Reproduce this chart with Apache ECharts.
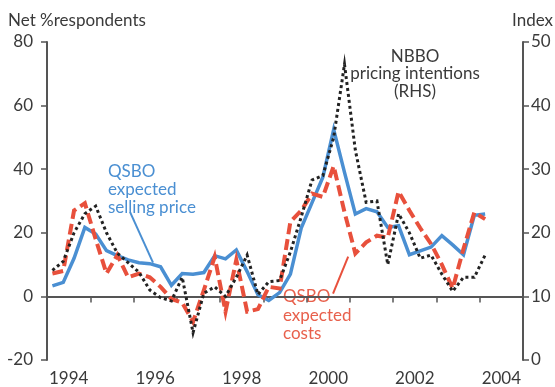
<!DOCTYPE html>
<html>
<head>
<meta charset="utf-8">
<script src="https://cdn.jsdelivr.net/npm/echarts@6/dist/echarts.min.js"></script>
<style>
  html, body { margin: 0; padding: 0; background: #ffffff; }
  #chart { width: 555px; height: 387px; }
</style>
</head>
<body>
<div id="chart"></div>
<script>
// Calendar years on the horizontal axis (labels shown every second year)
const years = ['1994', '1995', '1996', '1997', '1998', '1999', '2000', '2001', '2002', '2003', '2004'];
const firstYear = 1994;

// Quarterly observations, 1994 Q1 to 2004 Q1
// QSBO expected selling price, net % respondents (LHS)
const sellingPrice = [
  3.3, 4.4, 12, 21.7,
  19.6, 14.4, 12.8, 11.5,
  10.6, 10.3, 9.3, 3.5,
  7.2, 7.0, 7.5, 12.8,
  11.8, 14.6, 7.8, 0.5,
  -1.3, 1.2, 7, 21.5,
  29.5, 37.5, 52.5, 39,
  25.9, 27.6, 26.6, 21.7,
  22.2, 13.1, 14.3, 15.5,
  19.1, 16.2, 13.1, 25.5,
  25.9
];
// QSBO expected costs, net % respondents (LHS)
const expectedCosts = [
  7.2, 8, 27, 29.3,
  18, 7.2, 13, 6,
  7.2, 6, 3, -0.8,
  -2, -8, 2, 12.4,
  -4.8, 11.5, -4.8, -4,
  3, 2.5, 23.5, 27,
  32.3, 31.3, 41, 26.5,
  13.5, 17, 19.1, 18.5,
  33, 27, 21.5, 16.5,
  10, 2.5, 15, 26.4,
  24.3
];
// NBBO pricing intentions, index (RHS)
const nbboPricing = [
  14.1, 15.5, 20, 23,
  24.2, 20, 16.8, 15.3,
  13.8, 11, 9.8, 9.3,
  13, 4.3, 10.5, 11.5,
  10, 13, 16.5, 10.3,
  12.3, 12.5, 17, 22.5,
  28.3, 29, 35, 46.5,
  33, 24.8, 25, 15,
  23, 20, 16, 16.5,
  13.5, 10.8, 13, 13,
  16.5
];

// Axis scales
const leftAxis = { min: -20, max: 80, step: 20 };
const rightAxis = { min: 0, max: 50, step: 10 };

const FONT = 'Lato, "Open Sans", "DejaVu Sans", sans-serif';
const TEXT = '#3a3a3a';
const AXIS = '#555555';
const BLUE = '#4a8fd2';
const RED = '#e8503c';
const RED_TEXT = '#e8604c';
const BLACK = '#222222';

// Place quarter i (0-based from 1994 Q1) in the middle of its quarter
function quarterTime(i) { return firstYear + (i + 0.5) / 4; }
function pairs(values) { return values.map((v, i) => [quarterTime(i), v]); }

const chart = echarts.init(document.getElementById('chart'), null, { renderer: 'canvas' });

chart.setOption({
  animation: false,
  backgroundColor: '#ffffff',
  grid: { left: 47, right: 32, top: 42, bottom: 24 },
  xAxis: [
    {
      type: 'category',
      data: years,
      boundaryGap: true,
      axisLine: { lineStyle: { color: AXIS, width: 2 } },
      axisTick: { show: true, interval: 0, length: 6, lineStyle: { color: AXIS, width: 1.5 } },
      axisLabel: { interval: 1, margin: 10, color: TEXT, fontSize: 17, fontFamily: FONT },
      splitLine: { show: false }
    },
    {
      type: 'value',
      min: firstYear,
      max: firstYear + years.length,
      show: false,
      splitLine: { show: false }
    }
  ],
  yAxis: [
    {
      type: 'value',
      position: 'left',
      min: leftAxis.min, max: leftAxis.max, interval: leftAxis.step,
      axisLine: { show: true, lineStyle: { color: AXIS, width: 2 } },
      axisTick: { show: true, length: 6, lineStyle: { color: AXIS, width: 1.5 } },
      axisLabel: { margin: 14, color: TEXT, fontSize: 17, fontFamily: FONT },
      splitLine: { show: false }
    },
    {
      type: 'value',
      position: 'right',
      min: rightAxis.min, max: rightAxis.max, interval: rightAxis.step,
      axisLine: { show: true, lineStyle: { color: AXIS, width: 2 } },
      axisTick: { show: true, length: 6, lineStyle: { color: AXIS, width: 1.5 } },
      axisLabel: { margin: 8, color: TEXT, fontSize: 17, fontFamily: FONT },
      splitLine: { show: false }
    }
  ],
  series: [
    {
      name: 'QSBO expected selling price',
      type: 'line',
      xAxisIndex: 1, yAxisIndex: 0,
      data: pairs(sellingPrice),
      symbol: 'none',
      lineStyle: { color: BLUE, width: 3.5, join: 'miter' },
      z: 2,
      markLine: {
        silent: true,
        symbol: ['none', 'none'],
        label: { show: false },
        lineStyle: { color: BLUE, width: 2, type: 'solid' },
        data: [[{ coord: [1995.92, 26.5] }, { coord: [1996.45, 10.6] }]]
      }
    },
    {
      name: 'QSBO expected costs',
      type: 'line',
      xAxisIndex: 1, yAxisIndex: 0,
      data: pairs(expectedCosts),
      symbol: 'none',
      lineStyle: { color: RED, width: 4, type: [11, 5], join: 'miter' },
      z: 3,
      markLine: {
        silent: true,
        symbol: ['none', 'none'],
        label: { show: false },
        lineStyle: { color: RED, width: 2, type: 'solid' },
        data: [[{ coord: [2000.61, 0.9] }, { coord: [2000.96, 12.5] }]]
      }
    },
    {
      name: 'NBBO pricing intentions (RHS)',
      type: 'line',
      xAxisIndex: 1, yAxisIndex: 1,
      data: pairs(nbboPricing),
      symbol: 'none',
      lineStyle: { color: BLACK, width: 3, type: [3, 3], join: 'miter' },
      z: 4
    }
  ],
  graphic: [
    {
      type: 'text', left: 8, top: 12,
      style: { text: 'Net %respondents', fill: TEXT, fontSize: 17, fontFamily: FONT }
    },
    {
      type: 'text', right: 2, top: 12,
      style: { text: 'Index', fill: TEXT, fontSize: 17, fontFamily: FONT }
    },
    {
      type: 'text', x: 108, y: 162.5,
      style: {
        text: 'QSBO\nexpected\nselling price', fill: BLUE, fontSize: 17, fontFamily: FONT,
        lineHeight: 18, verticalAlign: 'top', align: 'left'
      }
    },
    {
      type: 'text', x: 283, y: 287.5,
      style: {
        text: 'QSBO\nexpected\ncosts', fill: RED_TEXT, fontSize: 17, fontFamily: FONT,
        lineHeight: 18.5, verticalAlign: 'top', align: 'left'
      }
    },
    {
      type: 'text', x: 415, y: 47.5,
      style: {
        text: 'NBBO\npricing intentions\n(RHS)', fill: TEXT, fontSize: 17, fontFamily: FONT,
        lineHeight: 17.5, verticalAlign: 'top', align: 'center'
      }
    }
  ]
});
</script>
</body>
</html>
